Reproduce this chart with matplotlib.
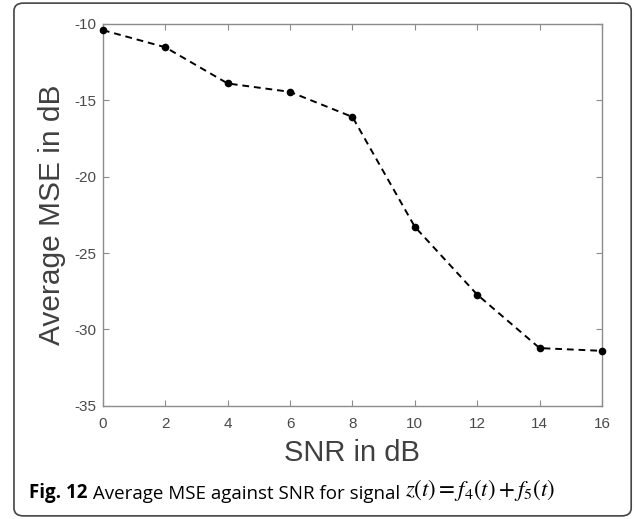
import numpy as np
import matplotlib.pyplot as plt
from matplotlib.patches import FancyBboxPatch

# Data
snr_db = [0, 2, 4, 6, 8, 10, 12, 14, 16]
avg_mse_db = [-10.41, -11.53, -13.9, -14.45, -16.09, -23.28, -27.72, -31.22, -31.4]
x_ticks = [0, 2, 4, 6, 8, 10, 12, 14, 16]
y_ticks = [-35, -30, -25, -20, -15, -10]

plt.rcParams['font.family'] = ['Liberation Sans', 'DejaVu Sans']
plt.rcParams['mathtext.fontset'] = 'stix'
plt.rcParams['axes.unicode_minus'] = False

fig = plt.figure(figsize=(6.35, 5.19), dpi=100)
ax = fig.add_axes([0.162, 0.218, 0.786, 0.736])

ax.plot(snr_db, avg_mse_db, 'k--', lw=1.4, marker='o', ms=4.5, dashes=(3.5, 2.5),
        clip_on=False, zorder=3)

ax.set_xlim(0, 16)
ax.set_ylim(-35, -10)
ax.set_xticks(x_ticks)
ax.set_yticks(y_ticks)

spine_col = '#8c8c8c'
for s in ax.spines.values():
    s.set_color(spine_col)
    s.set_linewidth(1.0)
ax.tick_params(direction='in', length=4, color=spine_col, labelcolor='#4a4a4a',
               labelsize=11, top=True, right=True)
ax.tick_params(axis='x', pad=8)
ax.tick_params(axis='y', pad=5)

ax.set_xlabel('SNR in dB', fontsize=21, color='#404040', labelpad=6)
ax.set_ylabel('Average MSE in dB', fontsize=21.5, color='#404040', labelpad=6)

# caption
cap_font = ['Open Sans', 'DejaVu Sans']
t1 = fig.text(0.046, 0.04, 'Fig. 12', fontsize=13.5, fontweight='bold',
              family=cap_font, va='baseline')
t2 = plt.annotate(' Average MSE against SNR for signal', xy=(1, 0), xycoords=t1,
                  xytext=(0, 0), textcoords='offset points', fontsize=13.5,
                  family=cap_font, va='bottom', annotation_clip=False)
t3 = plt.annotate(r'$z(t) = f_4(t) + f_5(t)$', xy=(1, 0), xycoords=t2,
                  xytext=(4, 0), textcoords='offset points', fontsize=16.5,
                  va='bottom', annotation_clip=False)

# rounded frame around figure
box = FancyBboxPatch((0.022, 0.006), 0.972, 0.988, boxstyle='round,pad=0,rounding_size=0.015',
                     transform=fig.transFigure, fill=False, ec='#444444', lw=1.2)
fig.patches.append(box)

fig.savefig('out.png', dpi=100)
